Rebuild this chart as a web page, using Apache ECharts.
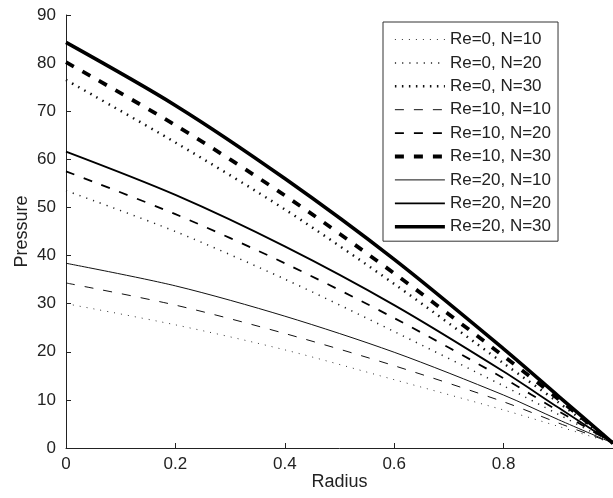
<!DOCTYPE html>
<html>
<head>
<meta charset="utf-8">
<script src="https://cdn.jsdelivr.net/npm/echarts@6/dist/echarts.min.js"></script>
<style>
  html, body { margin: 0; padding: 0; background: #fff; }
  #chart { width: 613px; height: 498px; }
</style>
</head>
<body>
<div id="chart"></div>
<script>
const radius = [0, 0.2, 0.4, 0.6, 0.8, 0.9, 1];

const re0n10 = [30.0, 25.6, 20.4, 14.2, 7.9, 4.5, 1.0];
const re0n20 = [53.5, 45.0, 35.1, 24.2, 12.9, 7.0, 1.0];
const re0n30 = [76.5, 63.5, 49.6, 34.1, 17.6, 9.5, 1.0];
const re10n10 = [34.3, 29.7, 23.8, 17.1, 9.6, 5.2, 1.0];
const re10n20 = [57.5, 48.6, 38.4, 27.0, 14.5, 7.7, 1.0];
const re10n30 = [80.2, 67.1, 52.5, 36.3, 19.1, 10.2, 1.0];
const re20n10 = [38.4, 33.7, 27.4, 19.9, 11.0, 5.9, 1.0];
const re20n20 = [61.6, 52.6, 41.9, 29.7, 15.9, 8.4, 1.0];
const re20n30 = [84.3, 71.2, 56.0, 39.2, 20.6, 10.8, 1.0];

const names = [
  'Re=0, N=10', 'Re=0, N=20', 'Re=0, N=30',
  'Re=10, N=10', 'Re=10, N=20', 'Re=10, N=30',
  'Re=20, N=10', 'Re=20, N=20', 'Re=20, N=30',
];
const values = [re0n10, re0n20, re0n30, re10n10, re10n20, re10n30, re20n10, re20n20, re20n30];

// line looks per curve
const styles = [
  { width: 1, type: [1, 6], color: '#333' },
  { width: 1.5, type: [1.2, 6], color: '#222' },
  { width: 2.5, type: [1.5, 5.5], color: '#111' },
  { width: 1, type: [9, 10], color: '#111' },
  { width: 1.8, type: [9, 10], color: '#000' },
  { width: 3.8, type: [9, 10], color: '#000' },
  { width: 1, type: 'solid', color: '#111' },
  { width: 1.8, type: 'solid', color: '#000' },
  { width: 3.6, type: 'solid', color: '#000' },
];

const textColor = '#222';
const font = 'Liberation Sans, Arial, sans-serif';

const chart = echarts.init(document.getElementById('chart'));

chart.setOption({
  animation: false,
  textStyle: { fontFamily: font },
  grid: {
    left: 66,
    right: -3,
    top: 15,
    bottom: 50,
  },
  legend: {
    orient: 'vertical',
    left: 383,
    top: 22,
    padding: [9, 7, 6, 10],
    itemWidth: 50,
    itemHeight: 14,
    itemGap: 6.4,
    borderColor: '#333',
    borderWidth: 1,
    backgroundColor: '#fff',
    itemStyle: { opacity: 0 },
    textStyle: { fontSize: 17, color: textColor, fontFamily: font },
    data: names.map((name, i) => ({
      name,
      lineStyle: { width: styles[i].width, type: styles[i].type, color: styles[i].color },
    })),
  },
  xAxis: {
    type: 'value',
    min: 0,
    max: 1,
    interval: 0.2,
    name: 'Radius',
    nameLocation: 'middle',
    nameGap: 25,
    nameMoveOverlap: false,
    nameTextStyle: { fontSize: 18, color: textColor },
    axisLine: { lineStyle: { color: '#222', width: 1 } },
    axisTick: { inside: true, length: 5, lineStyle: { color: '#222' } },
    axisLabel: { fontSize: 17, color: textColor, margin: 8, showMaxLabel: false },
    splitLine: { show: false },
  },
  yAxis: {
    type: 'value',
    min: 0,
    max: 90,
    interval: 10,
    name: 'Pressure',
    nameLocation: 'middle',
    nameGap: 35,
    nameMoveOverlap: false,
    nameTextStyle: { fontSize: 18, color: textColor },
    axisLine: { show: true, lineStyle: { color: '#222', width: 1 } },
    axisTick: { show: true, inside: true, length: 5, lineStyle: { color: '#222' } },
    axisLabel: { fontSize: 17, color: textColor, margin: 10 },
    splitLine: { show: false },
  },
  series: names.map((name, i) => ({
    name,
    type: 'line',
    symbol: 'none',
    smooth: 0.3,
    data: radius.map((r, j) => [r, values[i][j]]),
    itemStyle: { color: styles[i].color },
    lineStyle: {
      color: styles[i].color,
      width: styles[i].width,
      type: styles[i].type,
    },
  })),
});
</script>
</body>
</html>
